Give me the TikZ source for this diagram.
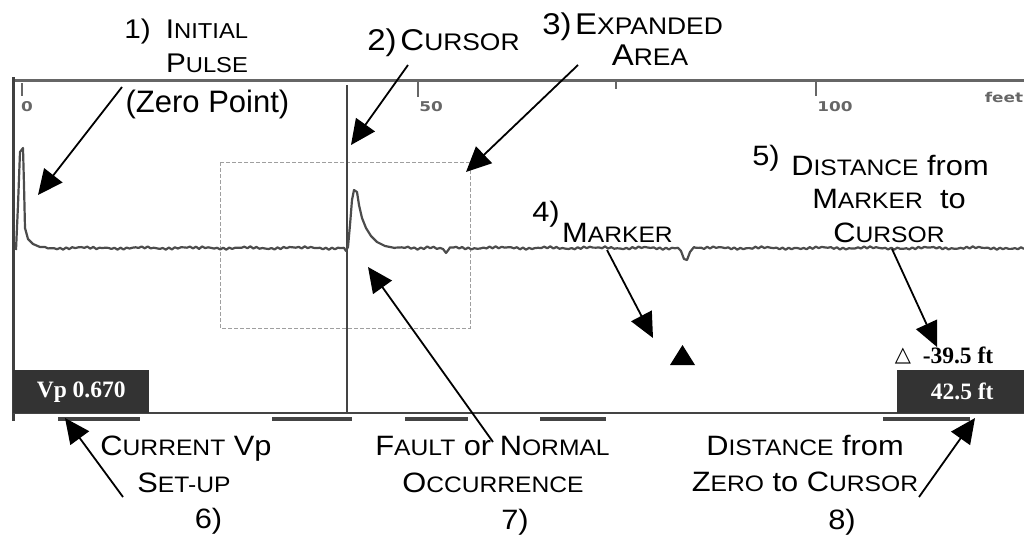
\documentclass[tikz,border=0pt]{standalone}
\usepackage{fontspec}
\setmainfont{Liberation Sans}[FakeStretch=1.1]
\newfontfamily\plainsans{Liberation Sans}
\newfontfamily\rmserif{Liberation Serif}
\newfontfamily\axisfont{DejaVu Sans}[FakeStretch=1.25]
\newfontfamily\symfont{DejaVu Sans}
\usetikzlibrary{arrows.meta}
\makeatletter
\newcommand\smc[2]{#1{\fontsize{\fpeval{0.8*\f@size}}{1}\selectfont#2}}
\makeatother
\definecolor{boxc}{HTML}{333333}
\definecolor{linec}{HTML}{444444}
\definecolor{axisc}{HTML}{666666}
\tikzset{
  lbl/.style={inner sep=0pt, anchor=base, font=\fontsize{28}{30}\selectfont},
  lblA/.style={lbl, font=\fontsize{27}{30}\selectfont},
  lblB/.style={lbl, font=\fontsize{30}{32}\selectfont},
  arr/.style={line width=1.8pt, -{Triangle[length=25pt,width=23pt]}},
  frame/.style={line width=3pt, color=axisc},
  tick/.style={line width=1.4pt, color=axisc},
  axlbl/.style={inner sep=0pt, text=axisc, font=\axisfont\bfseries\fontsize{13.5}{14}\selectfont},
  trace/.style={line width=2.2pt, color=black!70, line join=round},
  readbox/.style={fill=boxc, text=white, inner sep=0pt, anchor=north west,
     font=\rmserif\bfseries\fontsize{23.5}{25}\selectfont},
  tabbar/.style={line width=4pt, color=linec},
  exparea/.style={line width=0.9pt, color=gray!75, dash pattern=on 4pt off 2pt}
}
\newcommand\nz[1]{248+1.0*sin(53*mod(#1,150))+0.7*sin(127*mod(#1,100)+20)}
\begin{document}
\begin{tikzpicture}[x=1pt,y=-1pt]
\useasboundingbox (0,0) rectangle (1024,535);
% frame
\draw[frame] (12,80) -- (1024,80);
\draw[frame, color=black!75] (13,77) -- (13,421);
\draw[line width=2pt, color=linec] (13,413) -- (1024,413);
% ticks and axis labels
\draw[tick] (22,83) -- (22,96);
\draw[tick] (418,82) -- (418,97);
\draw[tick] (616,82) -- (616,89);
\draw[tick] (816,82) -- (816,96);
\node[axlbl] (t0) at (27,107) {0};
\node[axlbl] (t50) at (431,107) {50};
\node[axlbl] (t100) at (835,107) {100};
\node[axlbl] (tfeet) at (1004,97) {feet};
% expanded area
\draw[exparea] (220,162) rectangle (470,328);
% cursor line
\draw[line width=2.5pt, color=linec] (347,85) -- (347,413);
% trace
\draw[trace] (16,250) -- (18,205) -- (20,152) -- (23,148) -- (24,185) -- (25,228) -- (28,239) -- (33,244) -- (40,247)
  -- plot[domain=45:344, samples=100] (\x,{\nz{\x}})
  -- (346,251) -- (348,247) -- (350,225) -- (352,200) -- (354,190) -- (357,192) -- (359,205) -- (362,218)
  -- (366,228) -- (371,236) -- (377,242) -- (385,246) -- (395,248)
  -- plot[domain=395:440, samples=15] (\x,{\nz{\x}})
  -- (443,249) -- (446,253) -- (449,249)
  -- plot[domain=450:678, samples=76] (\x,{\nz{\x}})
  -- (681,251) -- (684,259) -- (687,260) -- (690,252) -- (694,247)
  -- plot[domain=695:1024, samples=110] (\x,{\nz{\x}});
% readouts
\node[readbox, minimum width=136pt, minimum height=43pt] (vp) at (13,370) {Vp 0.670};
\node[readbox, minimum width=127pt, minimum height=43pt] (dist) at (897,370) {\hspace{3pt}42.5 ft};
\node[inner sep=0pt, font=\symfont\fontsize{21}{22}\selectfont] (delta) at (903,356) {△};
\node[inner sep=0pt, anchor=base, font=\rmserif\bfseries\fontsize{23.5}{25}\selectfont] (dval) at (958,363) {-39.5 ft};
% marker
\fill (670,365) -- (682.5,345) -- (695,365) -- cycle;
% tabs under bottom line
\draw[tabbar] (58,419) -- (140,419);
\draw[tabbar] (272,419) -- (352,419);
\draw[tabbar] (405,419) -- (468,419);
\draw[tabbar] (540,419) -- (606,419);
\draw[tabbar] (883,419) -- (970,419);
% labels
\node[lblA] (n1) at (137.5,38) {1)};
\node[lblA] (l1a) at (207,38) {\smc{I}{NITIAL}};
\node[lblA] (l1b) at (207,72) {\smc{P}{ULSE}};
\node[lbl, font=\plainsans\fontsize{31}{33}\selectfont] (l1c) at (207.5,112) {(Zero Point)};
\node[lblB] (n2) at (382,50) {2)};
\node[lblB] (l2) at (460,50) {\smc{C}{URSOR}};
\node[lblB] (n3) at (557,35) {3)};
\node[lblB] (l3a) at (649,35) {\smc{E}{XPANDED}};
\node[lblB] (l3b) at (650,65) {\smc{A}{REA}};
\node[lbl] (n4) at (546,221) {4)};
\node[lbl] (l4) at (617.5,242) {\smc{M}{ARKER}};
\node[lbl] (n5) at (766,165) {5)};
\node[lbl] (l5a) at (890,175) {\smc{D}{ISTANCE} from};
\node[lbl] (l5b) at (889,208) {\smc{M}{ARKER}\ \ to};
\node[lbl] (l5c) at (889,242) {\smc{C}{URSOR}};
\node[lbl] (l6a) at (186,455) {\smc{C}{URRENT} Vp};
\node[lbl] (l6b) at (184,492) {\smc{S}{ET-UP}};
\node[lbl] (n6) at (208.5,528) {6)};
\node[lbl] (l7a) at (492.5,455) {\smc{F}{AULT} or \smc{N}{ORMAL}};
\node[lbl] (l7b) at (493,492) {\smc{O}{CCURRENCE}};
\node[lbl] (n7) at (515,529) {7)};
\node[lbl] (l8a) at (805,455) {\smc{D}{ISTANCE} from};
\node[lbl] (l8b) at (805,491) {\smc{Z}{ERO} to \smc{C}{URSOR}};
\node[lbl] (n8) at (842,529) {8)};
% arrow end points
\coordinate (a1s) at (122,87);  \coordinate (a1e) at (38,195);
\coordinate (a2s) at (408,65);  \coordinate (a2e) at (351,145);
\coordinate (a3s) at (578,65);  \coordinate (a3e) at (466,172);
\coordinate (a4s) at (607,250); \coordinate (a4e) at (653,338);
\coordinate (a5s) at (892,249); \coordinate (a5e) at (937,347);
\coordinate (a6s) at (123,497); \coordinate (a6e) at (65,418);
\coordinate (a7s) at (493,442); \coordinate (a7e) at (368,267);
\coordinate (a8s) at (919,497); \coordinate (a8e) at (975,418);
\draw[arr] (a1s) -- (a1e);
\draw[arr] (a2s) -- (a2e);
\draw[arr] (a3s) -- (a3e);
\draw[arr] (a4s) -- (a4e);
\draw[arr] (a5s) -- (a5e);
\draw[arr] (a6s) -- (a6e);
\draw[arr] (a7s) -- (a7e);
\draw[arr] (a8s) -- (a8e);
\end{tikzpicture}
\end{document}
